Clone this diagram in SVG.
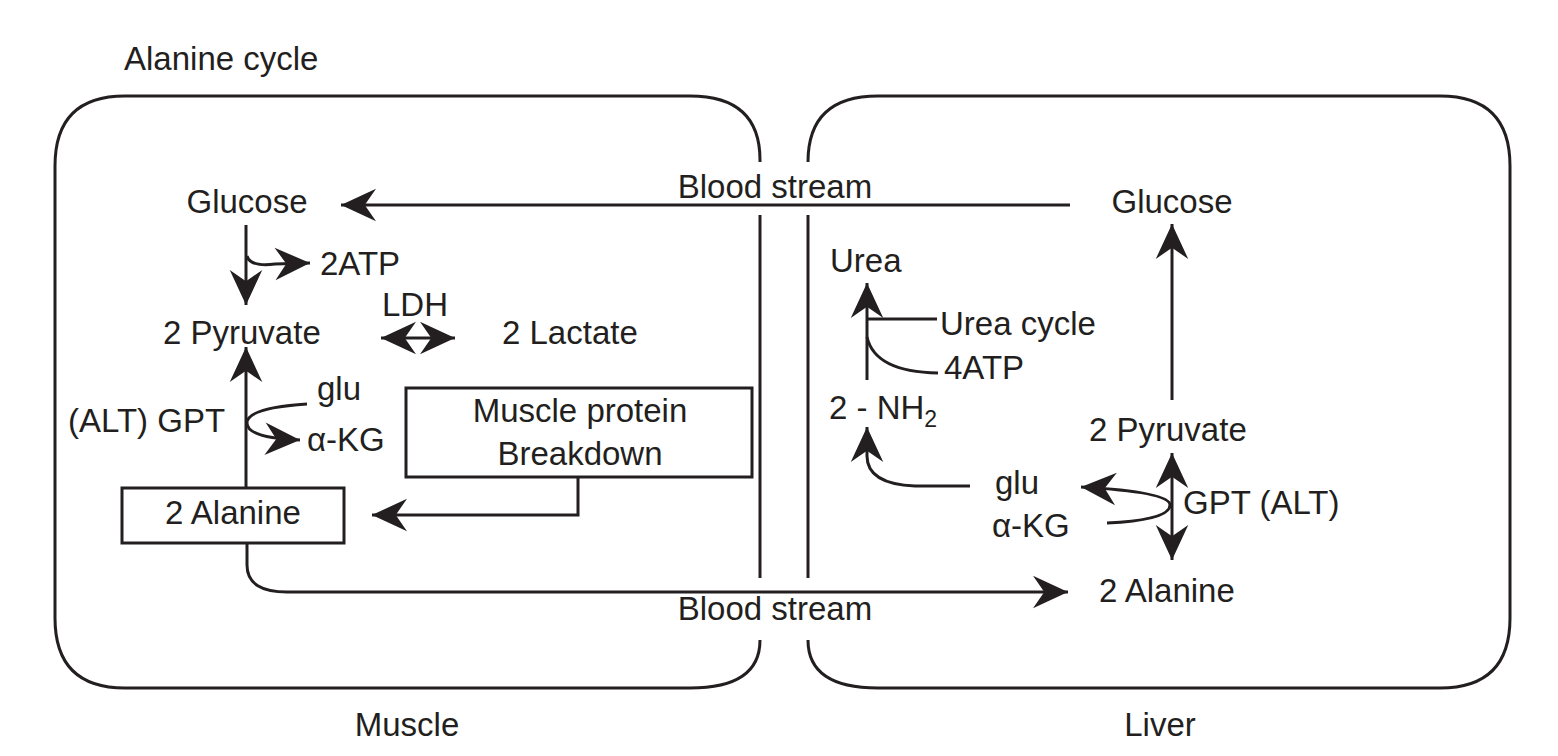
<svg xmlns="http://www.w3.org/2000/svg" width="1558" height="756" viewBox="0 0 1558 756">
<style>
text{font-family:"Liberation Sans",Arial,sans-serif;font-size:33px;fill:#231f20}
.l{fill:none;stroke:#231f20;stroke-width:3}
.a{marker-end:url(#ah)}
.b{marker-start:url(#ahs);marker-end:url(#ah)}
</style>
<defs>
<marker id="ah" markerUnits="userSpaceOnUse" markerWidth="40" markerHeight="40" viewBox="-30 -15 32 30" refX="0" refY="0" orient="auto"><path d="M0,0 L-28,-13 L-19,0 L-28,13 Z" fill="#231f20"/></marker>
<marker id="ahs" markerUnits="userSpaceOnUse" markerWidth="40" markerHeight="40" viewBox="-30 -15 32 30" refX="0" refY="0" orient="auto-start-reverse"><path d="M0,0 L-28,-13 L-19,0 L-28,13 Z" fill="#231f20"/></marker>
</defs>
<text x="124" y="70">Alanine cycle</text>
<g id="muscle"><path class="l" d="M760,162 L760,160 Q760,96 690,96 L125,96 Q55,96 55,166 L55,618 Q55,688 125,688 L690,688 Q760,688 760,640 M760,215 L760,578"/><text x="407" y="736" text-anchor="middle">Muscle</text></g>
<g id="liver"><path class="l" d="M808,162 Q808,96 878,96 L1440,96 Q1510,96 1510,166 L1510,618 Q1510,688 1440,688 L878,688 Q808,688 808,640 M808,215 L808,578"/><text x="1160" y="736" text-anchor="middle">Liver</text></g>
<g id="m-glucose"><text x="247" y="213" text-anchor="middle">Glucose</text></g>
<g id="m-2atp"><text x="320" y="275">2ATP</text></g>
<g id="m-ldh"><text x="382" y="316">LDH</text></g>
<g id="m-pyruvate"><text x="163" y="344">2 Pyruvate</text></g>
<g id="m-lactate"><text x="502" y="344">2 Lactate</text></g>
<g id="m-glu"><text x="317" y="400">glu</text></g>
<g id="m-gpt"><text x="68" y="432">(ALT) GPT</text></g>
<g id="m-akg"><text x="307" y="451">α-KG</text></g>
<g id="m-protein"><rect class="l" x="406" y="388" width="346" height="89"/><text x="580" y="422" text-anchor="middle">Muscle protein</text><text x="580" y="465" text-anchor="middle">Breakdown</text></g>
<g id="m-alanine"><rect class="l" x="122" y="488" width="222" height="55"/><text x="233" y="524" text-anchor="middle">2 Alanine</text></g>
<g id="bs-top"><text x="775" y="198" text-anchor="middle">Blood stream</text></g>
<g id="bs-bottom"><text x="775" y="620" text-anchor="middle">Blood stream</text></g>
<g id="l-glucose"><text x="1172" y="213" text-anchor="middle">Glucose</text></g>
<g id="l-urea"><text x="830" y="272">Urea</text></g>
<g id="l-ureacycle"><text x="940" y="335">Urea cycle</text></g>
<g id="l-4atp"><text x="944" y="379">4ATP</text></g>
<g id="l-nh2"><text x="829" y="419">2 - NH<tspan font-size="23" dy="8">2</tspan></text></g>
<g id="l-pyruvate"><text x="1089" y="441">2 Pyruvate</text></g>
<g id="l-glu"><text x="995" y="494">glu</text></g>
<g id="l-gpt"><text x="1183" y="514">GPT (ALT)</text></g>
<g id="l-akg"><text x="992" y="537">α-KG</text></g>
<g id="l-alanine"><text x="1099" y="602">2 Alanine</text></g>
<g id="connectors">
<path class="l a" d="M1070,205 L341,205"/>
<path class="l a" d="M246,225 L246,305"/>
<path class="l a" d="M247,256 Q250,267 275,264 L310,263"/>
<path class="l b" d="M381,338 L455,338"/>
<path class="l a" d="M246,488 L246,347"/>
<path class="l a" d="M307,404 Q247,408 247,423 Q247,438 300,440"/>
<path class="l a" d="M578,477 L578,515 L372,515"/>
<path class="l a" d="M247,543 L247,565 Q247,593 290,592 L1068,592"/>
<path class="l a" d="M1172,400 L1172,224"/>
<path class="l b" d="M1172,453 L1172,560"/>
<path class="l a" d="M1107,523 Q1170,520 1170,505 Q1170,492 1081,487"/>
<path class="l a" d="M970,486 L915,486 Q867,484 867,456 L867,427"/>
<path class="l a" d="M867,380 L867,283"/>
<path class="l" d="M867,319 L937,319"/>
<path class="l" d="M867,337 Q875,372 938,373"/>
</g>
</svg>
